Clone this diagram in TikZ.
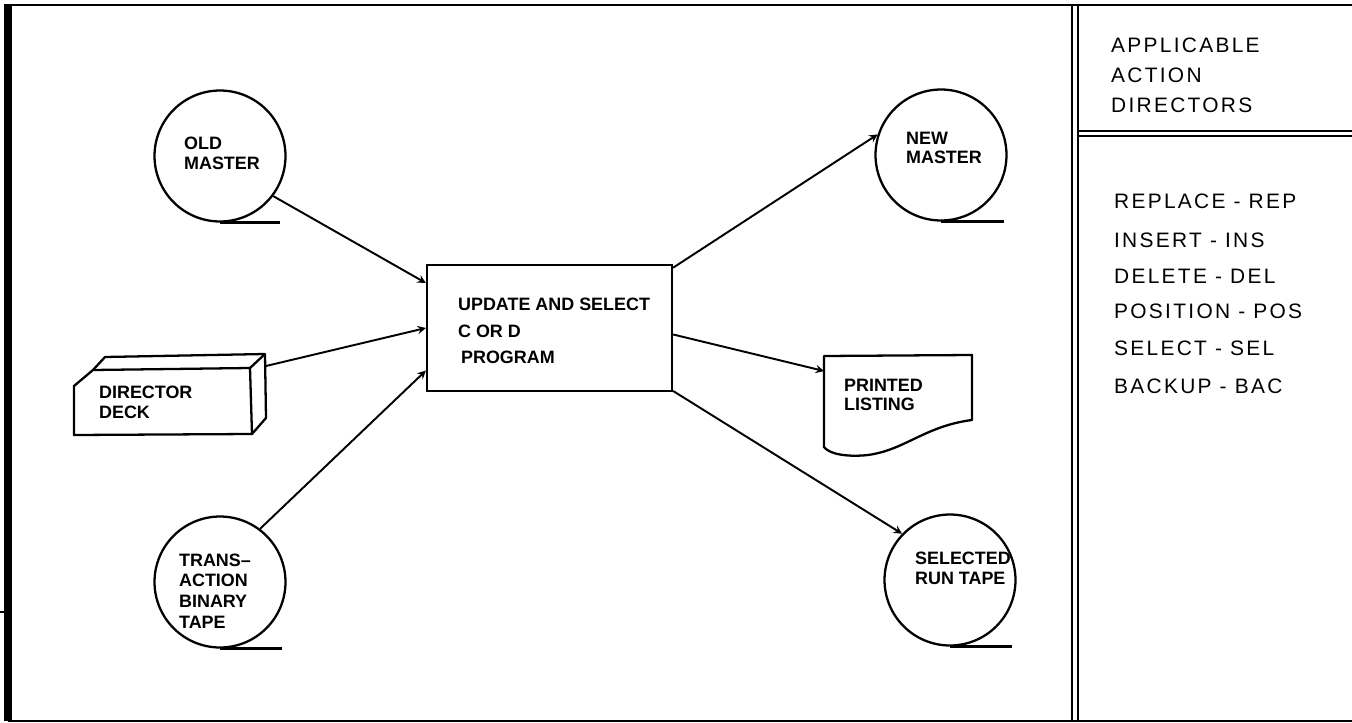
\documentclass[tikz,border=0pt]{standalone}
\usepackage{fontspec}
\setmainfont{Liberation Sans}
\newfontfamily\panelfont[LetterSpace=11]{Liberation Sans}
\usetikzlibrary{arrows}

\begin{document}
\begin{tikzpicture}
  [x=0.02cm,y=-0.02cm,line width=1.3pt]

  \tikzstyle{tape} = [draw,circle,inner sep=0pt,minimum size=2.62cm]
  \tikzstyle{prog} = [draw,rectangle,inner sep=0pt,minimum width=4.9cm,minimum height=2.52cm]
  \tikzstyle{lbl}  = [anchor=west,align=left,inner sep=0pt,font=\bfseries\fontsize{10.2}{11.2}\selectfont]
  \tikzstyle{head} = [anchor=west,align=left,inner sep=0pt,font=\panelfont\fontsize{11.9}{17}\selectfont]

  \useasboundingbox (0,0) rectangle (1352,723);

  % frame
  \draw[line width=4pt] (8,4) -- (8,721);
  \draw (0,612) -- (8,612);
  \draw (8,5) -- (1352,5);
  \draw (8,721) -- (1352,721);
  \draw[line width=0.9pt] (1072,5) -- (1072,721);
  \draw (1078,5) -- (1078,721);
  \draw[line width=0.9pt] (1078,131) -- (1352,131);
  \draw (1078,136) -- (1352,136);

  % tapes
  \node[tape] (oldmaster) at (220,156) {};
  \node[tape] (newmaster) at (941,155) {};
  \node[tape] (transtape) at (220,582) {};
  \node[tape] (runtape)   at (950,580) {};

  \draw (oldmaster.south) -- ++(60,0);
  \draw (newmaster.south) -- ++(63,0);
  \draw (transtape.south) -- ++(62,0);
  \draw (runtape.south)   -- ++(62,0);

  \node[prog] (program) at (549.5,328) {};

  % deck
  \draw[line join=round] (74,435) -- (74,386) -- (93,370) -- (250,368) -- (252,434) -- cycle;
  \draw[line join=round] (93,370) -- (105,357) -- (265,354) -- (266,418) -- (252,434);
  \draw (250,368) -- (265,354);
  \coordinate (deckout) at (266,366);

  % listing
  \draw[line join=round] (824,356) -- (972,355) -- (972,420)
    .. controls (925,426) and (905,450) .. (868,455)
    .. controls (850,457) and (830,455) .. (824,447) -- cycle;
  \coordinate (listingin) at (824,371);

  % labels
  \node[lbl] (oldmasterlabel) at (183,153) {OLD\\MASTER};
  \node[lbl] (newmasterlabel) at (905,148) {NEW\\MASTER};
  \node[lbl] (translabel)     at (178,591) {TRANS--\\[0.6pt]ACTION\\[0.6pt]BINARY\\[0.6pt]TAPE};
  \node[lbl] (runlabel)       at (914,568) {SELECTED\\RUN TAPE};
  \node[lbl] (decklabel)      at (98,402)  {DIRECTOR\\DECK};
  \node[lbl] (listinglabel)   at (843,395) {PRINTED\\LISTING};
  \node[lbl] (programlabel)   at (457,331) {UPDATE AND SELECT\\[4pt]C OR D\\[4pt]\,PROGRAM};

  % panel
  \node[head] (title)  at (1110,75)  {APPLICABLE\\ACTION\\DIRECTORS};
  \node[head] (rep) at (1113,201) {REPLACE - REP};
  \node[head] (ins) at (1113,240) {INSERT - INS};
  \node[head] (del) at (1113,276) {DELETE - DEL};
  \node[head] (pos) at (1113,311) {POSITION - POS};
  \node[head] (sel) at (1113,348) {SELECT - SEL};
  \node[head] (bac) at (1113,386) {BACKUP - BAC};

  \path[->, >=stealth, line width=1.1pt]
        (oldmaster.-37) edge (program.160.7)
        (deckout)       edge (program.west)
        (transtape.53)  edge (program.-161)
        (program.26.5)  edge (newmaster.162)
        (program.-3)    edge (listingin)
        (program.-27.2) edge (runtape.136);
\end{tikzpicture}
\end{document}
